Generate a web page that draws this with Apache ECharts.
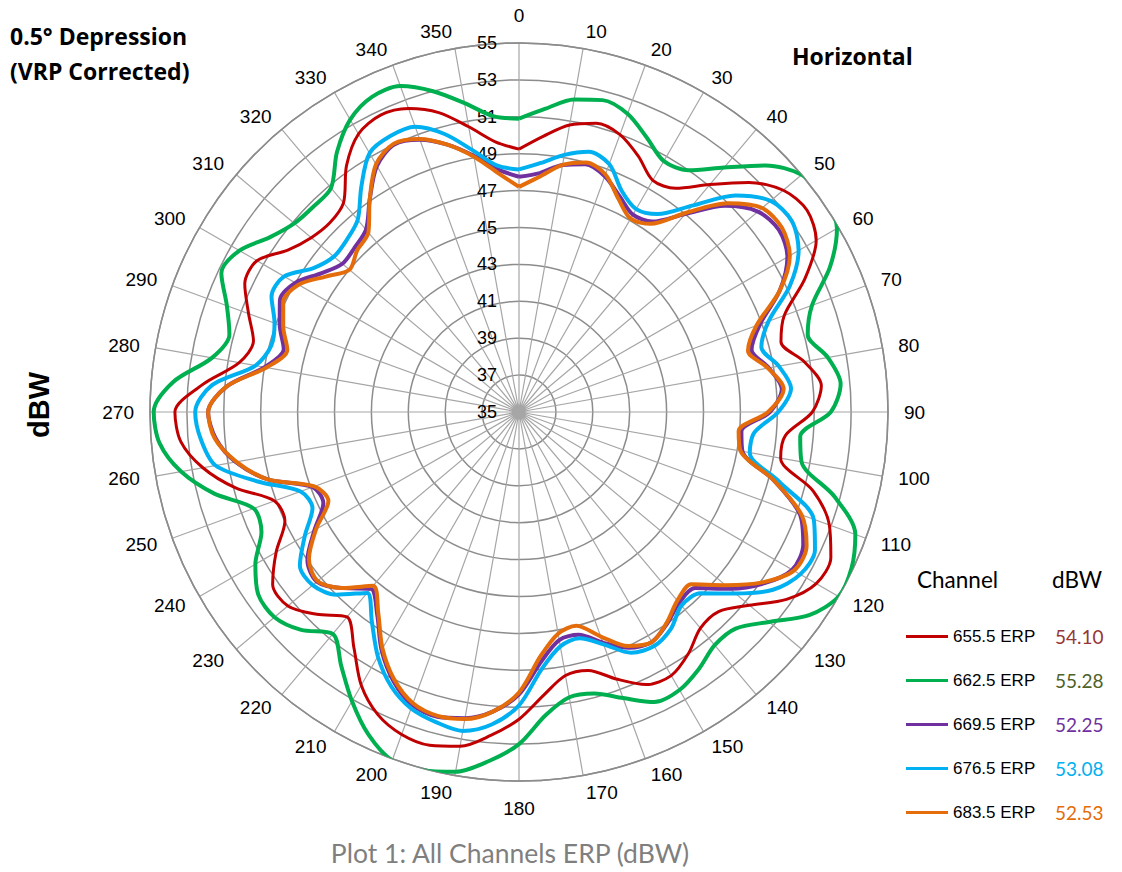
<!DOCTYPE html>
<html>
<head>
<meta charset="utf-8">
<title>ERP polar plot</title>
<script src="https://cdn.jsdelivr.net/npm/echarts@6/dist/echarts.min.js"></script>
<style>
  html, body { margin: 0; padding: 0; background: #fff; }
  #main { width: 1122px; height: 872px; }
</style>
</head>
<body>
<div id="main"></div>
<script>
// angles 0..355 step 5 (deg, clockwise from north)
var angles = [];
for (var a = 0; a < 360; a += 5) angles.push(a);

// channel names + summary dBW values
var channels = ['655.5 ERP', '662.5 ERP', '669.5 ERP', '676.5 ERP', '683.5 ERP'];
var channelDbw = ['54.10', '55.28', '52.25', '53.08', '52.53'];

// ERP (dBW), one value per 5 deg
var erp655 = [49.25, 50.0, 50.8, 51.2, 51.0, 50.3, 49.5, 49.8, 51.1, 52.6, 53.7, 54.06,
  53.6, 52.1, 50.3, 49.7, 50.7, 51.45, 50.9, 49.5, 49.4, 51.5, 52.9, 53.65,
  53.6, 52.7, 51.3, 50.3, 50.3, 51.0, 51.5, 51.3, 50.4, 49.5, 49.5, 50.4,
  51.65, 52.6, 53.4, 53.7, 53.6, 53.1, 52.1, 50.6, 49.5, 50.5, 51.35, 51.3,
  50.2, 49.0, 49.1, 50.9, 52.4, 53.4, 53.65, 52.2, 50.4, 49.9, 50.6, 51.4,
  51.4, 50.3, 49.7, 49.5, 49.8, 51.3, 52.4, 52.75, 52.5, 51.8, 50.7, 49.7];

var erp662 = [50.9, 51.5, 52.2, 52.5, 52.2, 51.4, 50.7, 51.0, 52.3, 53.9, 55.0, 55.25,
  54.9, 53.6, 51.9, 51.2, 52.0, 52.5, 51.9, 50.3, 50.55, 52.7, 54.4, 54.9,
  55.0, 54.2, 52.7, 51.6, 51.5, 52.0, 52.4, 52.35, 51.5, 50.8, 50.7, 51.5,
  53.0, 54.0, 54.8, 55.1, 55.1, 54.3, 53.1, 51.8, 50.7, 51.7, 52.3, 52.25,
  51.5, 50.4, 50.3, 52.1, 53.6, 54.55, 54.8, 53.8, 51.9, 51.25, 51.85, 52.8,
  52.5, 51.5, 50.9, 50.75, 50.85, 52.2, 53.3, 53.85, 53.8, 53.0, 52.0, 51.1];

var erp669 = [47.75, 48.0, 48.6, 48.9, 48.6, 47.9, 47.35, 47.6, 49.0, 50.8, 51.9, 52.2,
  51.8, 50.6, 48.9, 48.05, 48.75, 49.3, 48.6, 47.1, 47.3, 49.3, 51.2, 52.0,
  52.1, 51.2, 49.9, 48.5, 48.5, 49.0, 49.4, 49.1, 48.3, 47.5, 47.55, 48.6,
  50.3, 51.3, 51.85, 52.1, 51.9, 51.1, 49.9, 48.4, 47.5, 48.5, 49.3, 49.0,
  47.8, 46.7, 46.9, 49.1, 50.6, 51.5, 51.85, 50.9, 49.0, 48.2, 48.8, 49.3,
  49.0, 48.1, 47.5, 47.6, 47.9, 49.1, 50.4, 51.0, 50.7, 50.0, 49.1, 48.2];

var erp676 = [48.15, 48.55, 49.15, 49.6, 49.3, 48.2, 47.7, 48.1, 49.6, 51.6, 52.8, 53.05,
  52.5, 51.2, 49.4, 48.6, 49.3, 49.8, 49.05, 47.8, 47.7, 49.6, 52.0, 52.7,
  52.6, 51.8, 50.3, 48.9, 48.7, 49.35, 49.65, 49.4, 48.4, 47.7, 47.9, 49.0,
  50.9, 52.0, 52.55, 52.4, 52.1, 51.4, 50.3, 48.9, 47.8, 49.0, 49.6, 49.5,
  48.4, 47.35, 47.6, 49.6, 51.7, 52.3, 52.55, 51.7, 49.5, 48.9, 49.1, 49.8,
  49.7, 48.6, 48.1, 48.2, 48.6, 49.9, 51.2, 51.5, 51.45, 50.6, 49.4, 48.4];

var erp683 = [47.2, 47.8, 48.6, 49.0, 48.7, 47.75, 47.1, 47.45, 49.1, 51.0, 52.2, 52.4,
  51.95, 50.6, 48.7, 47.85, 48.7, 49.4, 48.5, 46.95, 47.2, 49.3, 51.3, 52.2,
  52.2, 51.1, 49.6, 48.2, 48.35, 48.95, 49.4, 49.0, 47.95, 47.0, 47.2, 48.3,
  50.2, 51.3, 51.9, 52.05, 51.8, 51.0, 49.8, 48.3, 47.3, 48.5, 49.25, 48.9,
  47.7, 46.4, 46.8, 49.1, 50.55, 51.55, 51.85, 50.9, 48.9, 48.0, 48.6, 49.1,
  48.8, 47.8, 47.0, 47.4, 47.7, 49.1, 50.5, 51.05, 50.75, 50.0, 49.05, 48.0];

var seriesValues = [erp655, erp662, erp669, erp676, erp683];
var lineColors = ['#C00000', '#00B050', '#7030A0', '#00B0F0', '#E46C0A'];
var valueColors = ['#953735', '#4F6228', '#7030A0', '#00B0F0', '#E46C0A'];
var lineWidths = [3, 4, 4, 4, 4];

function toPolar(vals) {
  var out = [];
  for (var i = 0; i < vals.length; i++) out.push([vals[i], angles[i]]);
  out.push([vals[0], 360]); // close the loop
  return out;
}

// angle labels: nudged to sit beside the spoke end like the excel plot
function angleLabel(v) {
  if (v === 360) return '';
  if (v === 0) return '{t|0}';
  if (v === 180) return '{b|180}';
  if (v === 10) return '{l2|10}';
  if (v === 170) return '{l3|170}';
  if (v === 350 || v === 190) return '{r3|' + v + '}';
  return String(v);
}

var chart = echarts.init(document.getElementById('main'), null, { renderer: 'svg' });

var series = [];
for (var s = 0; s < channels.length; s++) {
  series.push({
    name: channels[s],
    type: 'line',
    coordinateSystem: 'polar',
    data: toPolar(seriesValues[s]),
    symbol: 'none',
    smooth: 0.3,
    lineStyle: { color: lineColors[s], width: lineWidths[s] },
    itemStyle: { color: lineColors[s] },
    z: 2 + s
  });
}

var rich = { n: { width: 102, fontSize: 17, fontFamily: 'Liberation Sans', color: '#000' } };
for (var k = 0; k < channels.length; k++) {
  rich['v' + k] = { fontSize: 19, fontFamily: 'Lato', color: valueColors[k] };
}

var lbl = { fontSize: 19, fontFamily: 'Liberation Sans', color: '#000' };

var option = {
  animation: false,
  backgroundColor: '#fff',
  polar: { center: [519, 412], radius: 369 },
  angleAxis: {
    type: 'value',
    min: 0,
    max: 360,
    interval: 10,
    startAngle: 90,
    clockwise: true,
    axisLine: { show: true, lineStyle: { color: '#8c8c8c', width: 1.5 } },
    axisTick: { show: false },
    splitLine: { show: true, lineStyle: { color: '#a6a6a6', width: 1.2 } },
    axisLabel: {
      margin: 16,
      fontSize: 19,
      lineHeight: 2,
      fontFamily: 'Liberation Sans',
      color: '#000',
      formatter: angleLabel,
      rich: {
        t: Object.assign({ lineHeight: 24 }, lbl),
        b: Object.assign({ lineHeight: 22 }, lbl),
        l2: Object.assign({ padding: [0, 0, 0, 21] }, lbl),
        l3: Object.assign({ padding: [0, 0, 0, 32] }, lbl),
        r3: Object.assign({ padding: [0, 32, 0, 0] }, lbl)
      }
    }
  },
  radiusAxis: {
    type: 'value',
    min: 35,
    max: 55,
    interval: 2,
    axisLine: { show: false },
    axisTick: { show: false },
    splitLine: { show: true, lineStyle: { color: '#8c8c8c', width: 1.5 } },
    axisLabel: { fontSize: 18, fontFamily: 'Liberation Sans', color: '#000', margin: 22 }
  },
  legend: {
    orient: 'vertical',
    left: 906,
    top: 627,
    padding: 0,
    itemGap: 25,
    itemWidth: 42,
    itemHeight: 14,
    icon: 'path://M0,6 L42,6 L42,9 L0,9 Z',
    data: channels,
    formatter: function (name) {
      var i = channels.indexOf(name);
      return '{n|' + name + '}{v' + i + '|' + channelDbw[i] + '}';
    },
    textStyle: { rich: rich }
  },
  graphic: [
    { type: 'text', left: 10, top: 24, style: { text: '0.5° Depression', fontSize: 23, fontWeight: 'bold', fontFamily: 'Open Sans', fill: '#000' } },
    { type: 'text', left: 10, top: 59, style: { text: '(VRP Corrected)', fontSize: 23, fontWeight: 'bold', fontFamily: 'Open Sans', fill: '#000' } },
    { type: 'text', left: 792, top: 44, style: { text: 'Horizontal', fontSize: 23, fontWeight: 'bold', fontFamily: 'Open Sans', fill: '#000' } },
    { type: 'text', x: 39, y: 405, rotation: Math.PI / 2, style: { text: 'dBW', fontSize: 29, fontWeight: 'bold', fontFamily: 'Liberation Sans', fill: '#000', align: 'center', verticalAlign: 'middle' } },
    { type: 'text', left: 917, top: 568, style: { text: 'Channel', fontSize: 22.5, fontFamily: 'Lato', fill: '#000' } },
    { type: 'text', left: 1052, top: 568, style: { text: 'dBW', fontSize: 22.5, fontFamily: 'Lato', fill: '#000' } },
    { type: 'text', x: 510, y: 853, style: { text: 'Plot 1: All Channels ERP (dBW)', fontSize: 26.5, fontFamily: 'Lato', fill: '#7f7f7f', align: 'center', verticalAlign: 'middle' } }
  ],
  series: series
};

chart.setOption(option);
</script>
</body>
</html>
